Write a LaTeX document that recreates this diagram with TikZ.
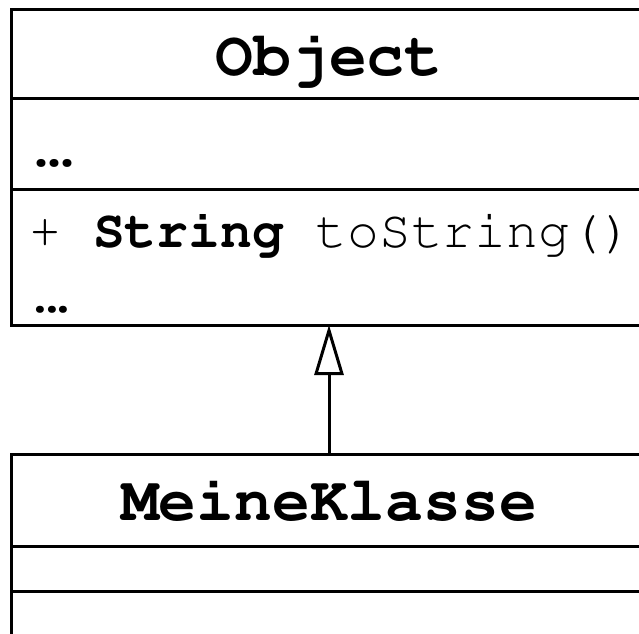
\documentclass[tikz,border=0pt]{standalone}
\usepackage[T1]{fontenc}
\usepackage{courier}
\usepackage{tikz}
\usetikzlibrary{arrows.meta}
\newcommand{\umore}{.\kern-0.38em.\kern-0.38em.}

\begin{document}
\begin{tikzpicture}[x=1pt, y=-1pt, line width=3pt,
	classbox/.style={rectangle, draw, outer sep=0pt, minimum width=635pt},
	classname/.style={anchor=base, inner sep=0pt, font=\fontsize{63}{63}\selectfont\ttfamily\bfseries},
	member/.style={anchor=base west, inner sep=0pt, font=\fontsize{53}{53}\selectfont\ttfamily}]
	\clip (0,0) rectangle (639,633);
%	class boxes
	\node[classbox, minimum height=315.5pt, anchor=north] at (329,9.5) (object) {};
	\node[classbox, minimum height=240pt, anchor=north] at (329,454) (meine) {};

	\draw ([yshift=-88.5pt]object.north west) -- ([yshift=-88.5pt]object.north east);
	\draw ([yshift=-179.5pt]object.north west) -- ([yshift=-179.5pt]object.north east);
	\draw ([yshift=-92pt]meine.north west) -- ([yshift=-92pt]meine.north east);
	\draw ([yshift=-137pt]meine.north west) -- ([yshift=-137pt]meine.north east);

	\node[classname] at (329,75) (objectname) {Object};
	\node[classname] at (329,520) (meinename) {MeineKlasse};

	\node[member, font=\fontsize{60}{60}\selectfont\ttfamily\bfseries] at (22,166) (attrs) {\umore};
	\node[member] at (28,247) (tostring) {+ \textbf{String} toString()};
	\node[member, font=\fontsize{53}{53}\selectfont\ttfamily\bfseries] at (23,312) (methods) {\umore};

	\draw[-{Triangle[open, length=50pt, width=29pt]}] (meine.north) -- (object.south);
\end{tikzpicture}
\end{document}
